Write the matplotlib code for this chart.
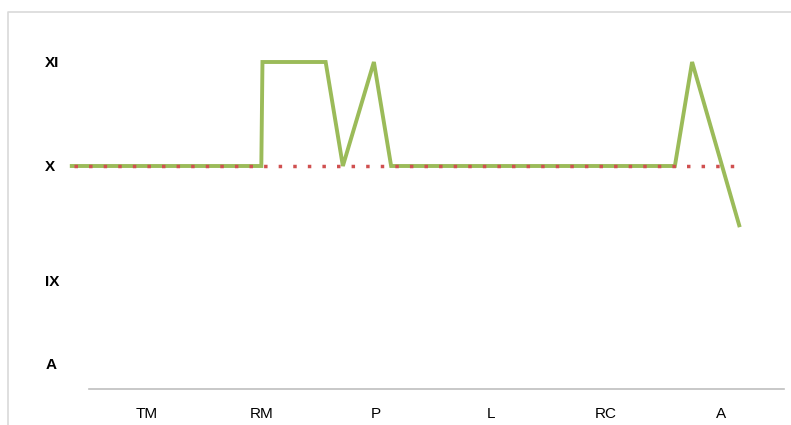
import matplotlib
matplotlib.use('Agg')
import matplotlib.pyplot as plt
from matplotlib.lines import Line2D

# category axis
categories = ['TM', 'RM', 'P', 'L', 'RC', 'A']
levels = ['A', 'IX', 'X', 'XI']
level_pos = [8.1, 8.9, 10, 11]  # where the level labels sit on the y scale

# green series (x in category units, 1 = TM)
line_x = [0.35, 2.0, 2.01, 2.56, 2.71, 2.98, 3.13, 5.6, 5.75, 6.16]
line_y = [10, 10, 11, 11, 10, 11, 10, 10, 11, 9.43]

# red dotted reference level
ref_x = [0.37, 6.17]
ref_y = [10, 10]

plt.rcParams['font.family'] = ['Liberation Sans Narrow', 'Liberation Sans', 'DejaVu Sans']

fig = plt.figure(figsize=(7.91, 4.25), dpi=100)
fig.patch.set_facecolor('white')
# chart area border: only the left and top edges are inside the picture
left, top = 8/791, 1 - 12/425
fig.add_artist(Line2D([left, left, 1.0], [0.0, top, top], transform=fig.transFigure,
                      color='#D9D9D9', lw=1.2))

ax = fig.add_axes([89/791, 1 - 389/425, (784 - 89)/791, (389 - 20)/425])
ax.plot(line_x, line_y, color='#9BBB59', lw=2.8, solid_joinstyle='miter', zorder=2, clip_on=False)
ax.plot(ref_x, ref_y, color='#D05050', lw=2.5, linestyle=(0, (1, 3.2)), zorder=3, clip_on=False)

ax.set_xlim(0.5, 6.55)
ax.set_ylim(10 - 223/104, 10 + 146/104)
ax.set_xticks(range(1, len(categories) + 1))
ax.set_xticklabels(categories, fontsize=11)
ax.set_yticks(level_pos)
ax.set_yticklabels(levels, fontsize=11, fontweight='bold', ha='left')
ax.tick_params(axis='x', length=0, pad=13)
ax.tick_params(axis='y', length=0, pad=31.5)

for s in ['top', 'right', 'left']:
    ax.spines[s].set_visible(False)
ax.spines['bottom'].set_color('#BFBFBF')
ax.spines['bottom'].set_linewidth(1.2)
ax.set_facecolor('none')

fig.savefig('out.png', dpi=100)
